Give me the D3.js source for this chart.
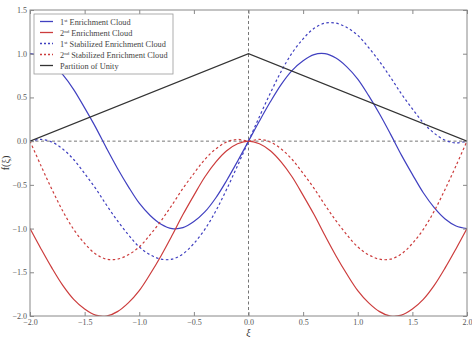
<!DOCTYPE html>
<html>
<head>
<meta charset="utf-8">
<script src="https://cdn.jsdelivr.net/npm/d3@7"></script>
<style>
  body { margin: 0; background: #fff; }
  text { font-family: "Liberation Serif", "DejaVu Serif", serif; }
</style>
</head>
<body>
<div id="app"></div>
<script>
const width = 472;
const height = 337;

// sample positions of the curves, -2 .. 2
const xs = [-2.0, -1.9, -1.8, -1.7, -1.6, -1.5, -1.4, -1.3, -1.2, -1.1, -1.0,
  -0.9, -0.8, -0.7, -0.6, -0.5, -0.4, -0.3, -0.2, -0.1, 0.0,
  0.1, 0.2, 0.3, 0.4, 0.5, 0.6, 0.7, 0.8, 0.9, 1.0,
  1.1, 1.2, 1.3, 1.4, 1.5, 1.6, 1.7, 1.8, 1.9, 2.0];

const enrich1 = [1.00, 0.97, 0.89, 0.76, 0.59, 0.38, 0.16, -0.08, -0.31, -0.52, -0.71,
  -0.85, -0.95, -1.00, -0.99, -0.92, -0.81, -0.65, -0.45, -0.23, 0.00,
  0.23, 0.45, 0.65, 0.81, 0.92, 0.99, 1.00, 0.95, 0.85, 0.71,
  0.52, 0.31, 0.08, -0.16, -0.38, -0.59, -0.76, -0.89, -0.97, -1.00];

const enrich2 = [-1.00, -1.23, -1.45, -1.65, -1.81, -1.92, -1.99, -2.00, -1.95, -1.85, -1.71,
  -1.52, -1.31, -1.08, -0.84, -0.62, -0.41, -0.24, -0.11, -0.03, 0.00,
  -0.03, -0.11, -0.24, -0.41, -0.62, -0.84, -1.08, -1.31, -1.52, -1.71,
  -1.85, -1.95, -2.00, -1.99, -1.92, -1.81, -1.65, -1.45, -1.23, -1.00];

const stab1 = [0.00, 0.02, -0.01, -0.09, -0.21, -0.37, -0.54, -0.73, -0.91, -1.07, -1.21,
  -1.30, -1.35, -1.35, -1.29, -1.17, -1.01, -0.80, -0.55, -0.28, 0.00,
  0.28, 0.55, 0.80, 1.01, 1.17, 1.29, 1.35, 1.35, 1.30, 1.21,
  1.07, 0.91, 0.73, 0.54, 0.37, 0.21, 0.09, 0.01, -0.02, 0.00];

const stab2 = [0.00, -0.28, -0.55, -0.80, -1.01, -1.17, -1.29, -1.35, -1.35, -1.30, -1.21,
  -1.07, -0.91, -0.73, -0.54, -0.37, -0.21, -0.09, -0.01, 0.02, 0.00,
  0.02, -0.01, -0.09, -0.21, -0.37, -0.54, -0.73, -0.91, -1.07, -1.21,
  -1.30, -1.35, -1.35, -1.29, -1.17, -1.01, -0.80, -0.55, -0.28, 0.00];

const unityX = [-2, 0, 2];
const unityY = [0, 1, 0];

const xTicks = [-2.0, -1.5, -1.0, -0.5, 0.0, 0.5, 1.0, 1.5, 2.0];
const yTicks = [-2.0, -1.5, -1.0, -0.5, 0.0, 0.5, 1.0, 1.5];

const blue = '#4040c0';
const red = '#cc3c3c';
const dark = '#333333';

const margin = {top: 10, right: 5, bottom: 21, left: 30};

const x = d3.scaleLinear().domain([-2, 2]).range([margin.left, width - margin.right]);
const y = d3.scaleLinear().domain([-2, 1.5]).range([height - margin.bottom, margin.top]);

const svg = d3.create('svg')
  .attr('width', width)
  .attr('height', height);

svg.append('defs').append('clipPath').attr('id', 'clip')
  .append('rect')
  .attr('x', margin.left).attr('y', margin.top)
  .attr('width', x(2) - x(-2)).attr('height', y(-2) - y(1.5));

// dashed zero lines
svg.append('line')
  .attr('x1', x(0)).attr('x2', x(0)).attr('y1', y(1.5)).attr('y2', y(-2))
  .attr('stroke', '#666').attr('stroke-width', 0.9).attr('stroke-dasharray', '3,2.5');
svg.append('line')
  .attr('x1', x(-2)).attr('x2', x(2)).attr('y1', y(0)).attr('y2', y(0))
  .attr('stroke', '#666').attr('stroke-width', 0.9).attr('stroke-dasharray', '3,2.5');

const line = d3.line()
  .x((d)=>x(d[0]))
  .y((d)=>y(d[1]))
  .curve(d3.curveCatmullRom);

const series = [
  {name: '1', sup: 'st', label: ' Enrichment Cloud', values: enrich1, color: blue, dash: null},
  {name: '2', sup: 'nd', label: ' Enrichment Cloud', values: enrich2, color: red, dash: null},
  {name: '1', sup: 'st', label: ' Stabilized Enrichment Cloud', values: stab1, color: blue, dash: '2.5,2.5'},
  {name: '2', sup: 'nd', label: ' Stabilized Enrichment Cloud', values: stab2, color: red, dash: '2.5,2.5'},
];

const plot = svg.append('g').attr('clip-path', 'url(#clip)');

series.forEach((s)=>{
  plot.append('path')
    .datum(xs.map((v, i)=>[v, s.values[i]]))
    .attr('d', line)
    .attr('fill', 'none')
    .attr('stroke', s.color)
    .attr('stroke-width', 1.2)
    .attr('stroke-dasharray', s.dash);
});

plot.append('path')
  .datum(unityX.map((v, i)=>[v, unityY[i]]))
  .attr('d', d3.line().x((d)=>x(d[0])).y((d)=>y(d[1])))
  .attr('fill', 'none')
  .attr('stroke', dark)
  .attr('stroke-width', 1.2);

// frame
svg.append('rect')
  .attr('x', x(-2)).attr('y', y(1.5))
  .attr('width', x(2) - x(-2)).attr('height', y(-2) - y(1.5))
  .attr('fill', 'none').attr('stroke', '#888').attr('stroke-width', 1);

// axes, ticks inward
const fmt = (d)=>d3.format('.1f')(d).replace('-', '\u2212');
const axisStyle = (g)=>{
  g.select('.domain').remove();
  g.selectAll('.tick line').attr('stroke', '#888');
  g.selectAll('.tick text').attr('fill', '#555').style('font-size', '8px')
    .style('font-family', '"Liberation Serif", "DejaVu Serif", serif');
};

svg.append('g')
  .attr('transform', `translate(0,${y(-2)})`)
  .call(d3.axisBottom(x).tickValues(xTicks).tickFormat(fmt).tickSizeInner(-4).tickPadding(3))
  .call(axisStyle);
svg.append('g')
  .attr('transform', `translate(0,${y(1.5)})`)
  .call(d3.axisTop(x).tickValues(xTicks).tickFormat('').tickSizeInner(-4))
  .call(axisStyle);
svg.append('g')
  .attr('transform', `translate(${x(-2)},0)`)
  .call(d3.axisLeft(y).tickValues(yTicks).tickFormat(fmt).tickSizeInner(-4).tickPadding(3))
  .call(axisStyle);
svg.append('g')
  .attr('transform', `translate(${x(2)},0)`)
  .call(d3.axisRight(y).tickValues(yTicks).tickFormat('').tickSizeInner(-4))
  .call(axisStyle);

// axis labels
svg.append('text')
  .attr('x', x(0)).attr('y', height - 1)
  .attr('text-anchor', 'middle')
  .attr('fill', '#333')
  .style('font-size', '10px')
  .style('font-style', 'italic')
  .text('\u03be');
svg.append('text')
  .attr('transform', `translate(9,${y(-0.25)}) rotate(-90)`)
  .attr('text-anchor', 'middle')
  .attr('fill', '#333')
  .style('font-size', '10px')
  .text('f(\u03be)');

// legend
const legend = svg.append('g').attr('transform', `translate(${x(-2) + 4},${y(1.5) + 4})`);
legend.append('rect')
  .attr('width', 139).attr('height', 60)
  .attr('fill', '#fff').attr('stroke', '#999').attr('stroke-width', 0.8);

const entries = series.concat([{name: 'Partition of Unity', sup: '', label: '', color: dark, dash: null}]);
entries.forEach((s, i)=>{
  const row = legend.append('g').attr('transform', `translate(0,${7.5 + i * 11})`);
  row.append('line')
    .attr('x1', 6).attr('x2', 19).attr('y1', 0).attr('y2', 0)
    .attr('stroke', s.color).attr('stroke-width', 1.3)
    .attr('stroke-dasharray', s.dash ? '2,2' : null);
  const t = row.append('text')
    .attr('x', 26).attr('y', 3)
    .attr('fill', '#444')
    .style('font-size', '8.3px');
  t.append('tspan').text(s.name);
  if (s.sup) {
    t.append('tspan').attr('dy', -3).style('font-size', '5px').text(s.sup);
    t.append('tspan').attr('dy', 3).text(s.label);
  }
});

document.getElementById('app').appendChild(svg.node());
</script>
</body>
</html>
